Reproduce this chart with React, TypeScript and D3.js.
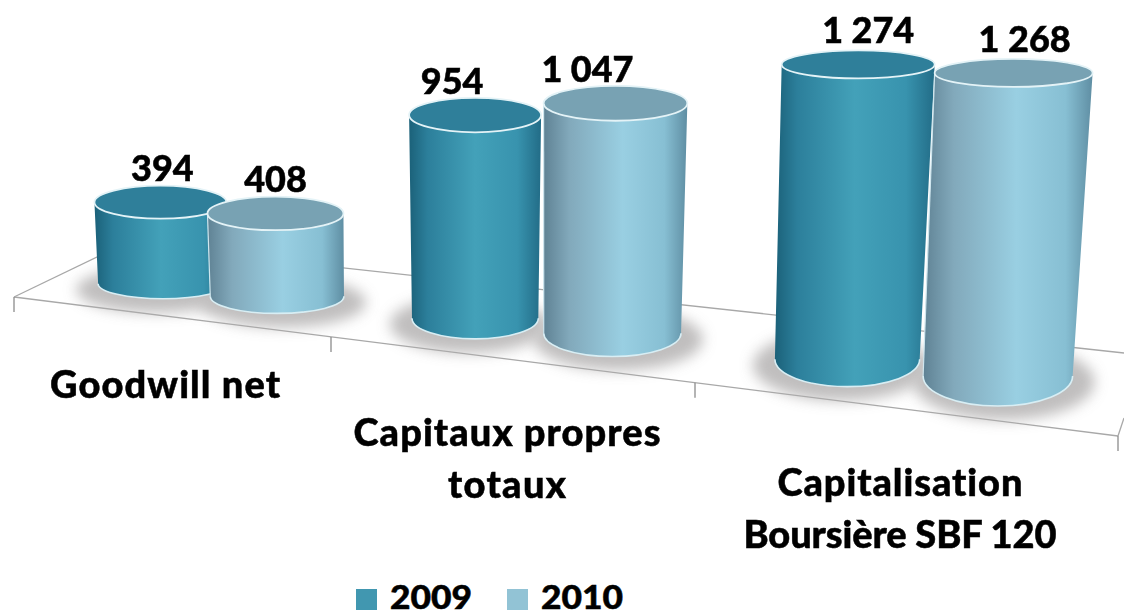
import React from 'react'
import * as d3 from 'd3'

const categories = [['Goodwill net'], ['Capitaux propres', 'totaux'], ['Capitalisation', 'Boursière SBF 120']]
const series = ['2009', '2010']
const values2009 = [394, 954, 1274]
const values2010 = [408, 1047, 1268]
const labels2009 = ['394', '954', '1 274']
const labels2010 = ['408', '1 047', '1 268']

const width = 1124
const height = 615

// the floor is in perspective, so categories get wider going right
const x = d3.scaleLinear().domain([0, 1, 2, 3]).range([14, 331, 695, 1118])
const slot = [
  d3.scaleLinear().domain([0, 1, 2]).range([0.47, 0.396, 0.36]),
  d3.scaleLinear().domain([0, 2]).range([0.83, 0.716])
]
const floorFront = d3.scaleLinear().domain([157, 998]).range([298, 406])
const ryBottom = d3.scaleLinear().domain([157, 998]).range([15, 30])
const ryTop = d3.scaleLinear().domain([157, 610, 847]).range([16.5, 17.5, 14]).clamp(true)
const rx = d3.scaleLinear().domain([157, 475, 847, 998]).range([66, 66, 76.5, 77])
const pxPerValue = d3.scaleLinear().domain([157, 277, 998]).range([0.207, 0.203, 0.239])
const lean = d3.scaleLinear().domain([157, 998]).range([-0.032, 0.052])

const labelDx = [[2, 0], [-23, -28], [10, 11]]
const labelDy = -21
const catCenter = [165, 507, 900]
const catY = [398, 446, 496]
const catWidth = [[230], [307, 118], [245, 313]]
const lineH = 52

const fontFamily = 'Lato, Carlito, Calibri, sans-serif'

function bars() {
  const res: any[] = []
  categories.forEach((c, i) => {
    ;[values2009, values2010].forEach((vals, s) => {
      const cx = x(i + slot[s](i))
      const h = vals[i] * pxPerValue(cx)
      const by = floorFront(cx) - ryBottom(cx)
      const tx = cx + h * lean(cx)
      const ty = by - h
      const rt = rx(cx) + (s ? 2 : 0)
      const rb = rt - h * 0.014
      res.push({ i, s, cx, by, tx, ty, rt, rb, ryt: ryTop(cx), ryb: ryBottom(cx), label: (s ? labels2010 : labels2009)[i] })
    })
  })
  return res
}

function sidePath(b: any) {
  return `M${b.tx - b.rt},${b.ty} L${b.cx - b.rb},${b.by} A${b.rb},${b.ryb} 0 0 0 ${b.cx + b.rb},${b.by} L${b.tx + b.rt},${b.ty} A${b.rt},${b.ryt} 0 0 1 ${b.tx - b.rt},${b.ty} Z`
}

function bottomEdge(b: any) {
  return `M${b.cx - b.rb},${b.by} A${b.rb},${b.ryb} 0 0 0 ${b.cx + b.rb},${b.by}`
}

export default function App() {
  const data = bars()
  const floorSlope = (436 - 297) / (1118 - 14)
  const tickY = (v: number) => 297 + (x(v) - 14) * floorSlope

  return (
    <svg width={width} height={height} style={{ position: 'absolute', left: 0, top: 0, background: '#fff' }}>
      <defs>
        <linearGradient id="side0" x1="0" x2="1" y1="0" y2="0">
          <stop offset="0" stopColor="#1b6179" />
          <stop offset="0.14" stopColor="#2c7f9b" />
          <stop offset="0.5" stopColor="#43a1b9" />
          <stop offset="0.82" stopColor="#3893ae" />
          <stop offset="1" stopColor="#226c87" />
        </linearGradient>
        <linearGradient id="side1" x1="0" x2="1" y1="0" y2="0">
          <stop offset="0" stopColor="#5f8294" />
          <stop offset="0.18" stopColor="#82a9bb" />
          <stop offset="0.55" stopColor="#99cfe2" />
          <stop offset="0.84" stopColor="#87bfd3" />
          <stop offset="1" stopColor="#5f8ea3" />
        </linearGradient>
        <filter id="soft" x="-30%" y="-60%" width="160%" height="220%">
          <feGaussianBlur stdDeviation="7" />
        </filter>
      </defs>

      <g stroke="#a8a8a8" strokeWidth={1.3} fill="none">
        <line x1={x(0)} y1={tickY(0)} x2={x(3)} y2={tickY(3)} />
        <line x1={x(0)} y1={tickY(0)} x2={124} y2={244} />
        <line x1={124} y1={244} x2={1124} y2={353} />
        <line x1={x(3)} y1={tickY(3)} x2={1124} y2={418} />
        {x.domain().map(v => (
          <line key={v} x1={x(v)} y1={tickY(v)} x2={x(v)} y2={tickY(v) + 15} stroke="#8c8c8c" />
        ))}
      </g>

      <g opacity={0.8}>
        {data.map(b => (
          <ellipse
            key={`sh${b.i}${b.s}`}
            cx={b.cx + (b.s ? 6 : -6)}
            cy={b.by + 6}
            rx={b.rb + 16}
            ry={b.ryb + 8}
            fill="#b0aeae"
            filter="url(#soft)"
          />
        ))}
      </g>

      {data.map(b => (
        <g key={`${b.i}${b.s}`}>
          <path d={sidePath(b)} fill={`url(#side${b.s})`} />
          <path d={bottomEdge(b)} fill="none" stroke="#d8eef4" strokeWidth={1.6} />
          <line x1={b.tx - b.rt} y1={b.ty} x2={b.cx - b.rb} y2={b.by} stroke="#cfe6ee" strokeWidth={b.s ? 1.2 : 0} />
          <ellipse
            cx={b.tx}
            cy={b.ty}
            rx={b.rt}
            ry={b.ryt}
            fill={b.s ? '#78a2b3' : '#2f7f9a'}
            stroke="#e4f3f7"
            strokeWidth={1.8}
          />
        </g>
      ))}

      <g
        fontFamily={fontFamily}
        fontWeight={900}
        fill="#000"
        stroke="#000"
        strokeWidth={0.5}
        textAnchor="middle"
        style={{ fontVariantLigatures: 'none' }}
      >
        <g fontSize={36}>
          {data.map(b => (
            <text key={`l${b.i}${b.s}`} x={b.tx + labelDx[b.i][b.s]} y={b.ty + labelDy}>
              {b.label}
            </text>
          ))}
        </g>
        <g fontSize={38}>
          {categories.map((lines, i) =>
            lines.map((t, j) => (
              <text
                key={t}
                x={catCenter[i]}
                y={catY[i] + j * lineH}
                textLength={catWidth[i][j]}
                lengthAdjust="spacing"
              >
                {t}
              </text>
            ))
          )}
        </g>
      </g>

      <g fontFamily={fontFamily} fontWeight={900} fontSize={32} stroke="#000" strokeWidth={0.5}>
        {series.map((s, i) => (
          <g key={s} transform={`translate(${356 + i * 151},589)`}>
            <rect width={21} height={21} fill={i ? '#92c3d5' : '#4197b0'} stroke="none" />
            <text x={34} y={19.5} textLength={82} lengthAdjust="spacingAndGlyphs">
              {s}
            </text>
          </g>
        ))}
      </g>
    </svg>
  )
}
